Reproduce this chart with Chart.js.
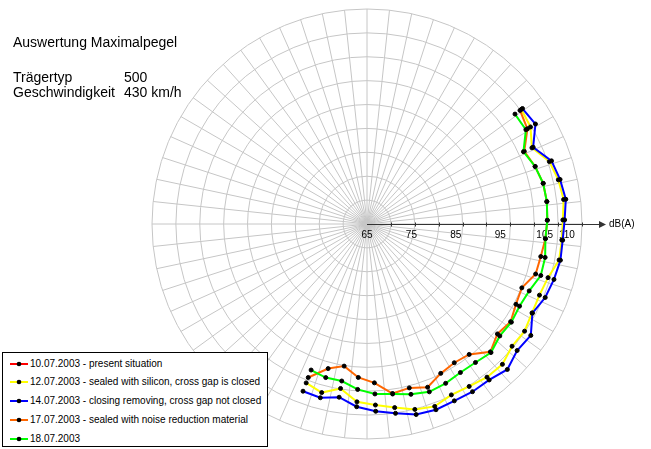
<!DOCTYPE html>
<html><head><meta charset="utf-8">
<script src="https://cdn.jsdelivr.net/npm/chart.js@4/dist/chart.umd.min.js"></script>
<style>
html,body{margin:0;padding:0;background:#fff;}
#wrap{position:relative;width:651px;height:449px;overflow:hidden;font-family:"Liberation Sans",Arial,sans-serif;color:#000;}
#c{position:absolute;left:0;top:0;}
.t{position:absolute;font-size:14px;line-height:14px;white-space:nowrap;}
#legend{position:absolute;left:2px;top:352px;width:264px;height:93px;border:1px solid #000;background:#fff;}
.row{position:absolute;left:0;height:14px;font-size:10px;line-height:14px;white-space:nowrap;}
.row svg{position:absolute;left:6px;top:0;}
.row span{position:absolute;left:27px;top:0;}
</style></head><body>
<div id="wrap">
<canvas id="c" width="651" height="449"></canvas>
<div class="t" style="left:13px;top:35px">Auswertung Maximalpegel</div>
<div class="t" style="left:13px;top:70px">Trägertyp</div>
<div class="t" style="left:124px;top:70px">500</div>
<div class="t" style="left:13px;top:85px">Geschwindigkeit</div>
<div class="t" style="left:124px;top:85px">430 km/h</div>
<div id="legend"></div>
</div>
<script>
// ---- data (dB(A)), measured clockwise, one value per measuring position ----
const seriesLabels = [
  '10.07.2003 - present situation',
  '12.07.2003 - sealed with silicon, cross gap is closed',
  '14.07.2003 - closing removing, cross gap not closed',
  '17.07.2003 - sealed with noise reduction material',
  '18.07.2003'
];
const seriesColors = ['#ff0000', '#ffff00', '#0000ff', '#ff6600', '#00ff00'];
const tickLabels = [65, 75, 85, 95, 105, 110];
const axisTitle = 'dB(A)';

const red = [];
const yellow = [108.3, 107.8, 105.9, 108.4, 109.2, 109.6, 109.1, 109.0, 109.0, 107.5, 107.0, 107.2, 107.9, 107.7, 108.9, 108.8, 108.2, 107.9, 108.8, 108.1, 106.8, 105.8, 105.1, 102.5, 104.3, 103.3];
const blue   = [108.6, 109.1, 106.2, 108.9, 109.6, 110.1, 109.5, 109.2, 109.3, 108.9, 108.4, 107.3, 109.6, 109.2, 110.5, 109.6, 109.6, 109.4, 109.6, 109.3, 108.1, 107.2, 106.2, 104.5, 105.5, 105.3];
const orange = [107.9, 107.0, 104.0, 105.0, 105.7, 105.8, 105.6, 105.3, 104.8, 104.6, 102.7, 103.1, 104.1, 103.4, 105.0, 102.3, 101.9, 102.5, 104.2, 103.1, 103.6, 100.8, 99.6, 97.4, 98.7, 102.0];
const green  = [106.5, 106.6, 103.8, 105.0, 105.7, 105.8, 105.6, 105.3, 105.8, 105.8, 104.5, 104.0, 104.3, 104.1, 105.2, 104.6, 104.5, 105.0, 105.3, 104.6, 103.7, 103.3, 102.3, 100.8, 100.8, 100.2];

const R_MIN = 65, R_MAX = 113.4;
const GRID_RINGS = 9, GRID_SPOKES = 60, DATA_SLOTS = 61;

const allSeries = [red, yellow, blue, orange, green];
const pad = arr => Array.from({length: DATA_SLOTS}, (_, i) => i < arr.length ? arr[i] : null);

const datasets = allSeries.map((arr, k) => ({
  label: seriesLabels[k],
  data: pad(arr),
  rAxisID: 'r2',
  borderColor: seriesColors[k],
  backgroundColor: seriesColors[k],
  borderWidth: 2,
  fill: false,
  spanGaps: false,
  tension: 0,
  pointRadius: 2,
  pointBorderWidth: 1,
  pointBackgroundColor: '#000',
  pointBorderColor: '#000',
  order: allSeries.length - k
}));

const axisPlugin = {
  id: 'dbAxis',
  beforeDatasetsDraw(chart) {
    const s = chart.scales.r;
    const ctx = chart.ctx;
    const cx = s.xCenter, cy = s.yCenter + 0.5;
    const end = cx + s.drawingArea + 24;
    ctx.save();
    ctx.strokeStyle = '#333';
    ctx.fillStyle = '#333';
    ctx.lineWidth = 1;
    ctx.beginPath(); ctx.moveTo(cx, cy); ctx.lineTo(end - 4, cy); ctx.stroke();
    ctx.beginPath(); ctx.moveTo(end, cy); ctx.lineTo(end - 7, cy - 3.5); ctx.lineTo(end - 7, cy + 3.5); ctx.closePath(); ctx.fill();
    s.ticks.forEach((t, i) => {
      if (!i) return;
      const x = Math.round(cx + s.getDistanceFromCenterForValue(t.value)) + 0.5;
      ctx.beginPath(); ctx.moveTo(x, cy - 2); ctx.lineTo(x, cy + 2); ctx.stroke();
    });
    ctx.fillStyle = '#000';
    ctx.font = '10px "Liberation Sans", Arial, sans-serif';
    ctx.textAlign = 'center';
    ctx.textBaseline = 'alphabetic';
    tickLabels.forEach(v => ctx.fillText(String(v), cx + s.getDistanceFromCenterForValue(v), cy + 13.5));
    ctx.textAlign = 'left';
    ctx.textBaseline = 'middle';
    ctx.fillText(axisTitle, end + 3, cy);
    ctx.restore();
  }
};

new Chart(document.getElementById('c'), {
  type: 'radar',
  data: { labels: Array(DATA_SLOTS).fill(''), datasets },
  options: {
    responsive: false,
    animation: false,
    devicePixelRatio: 1,
    layout: { padding: { left: 152, right: 69, top: 9, bottom: 10 } },
    plugins: { legend: { display: false }, tooltip: { enabled: false } },
    scales: {
      r: {
        type: 'radialLinear',
        min: R_MIN, max: R_MAX,
        startAngle: 0,
        labels: Array(GRID_SPOKES).fill(''),
        afterBuildTicks: s => {
          s.ticks = Array.from({length: GRID_RINGS + 1}, (_, k) => ({ value: R_MIN + k * (R_MAX - R_MIN) / GRID_RINGS }));
        },
        grid: { circular: true, color: '#c6c6c6', lineWidth: 1 },
        angleLines: { display: true, color: '#c6c6c6', lineWidth: 1 },
        ticks: { display: false },
        pointLabels: { display: false }
      },
      r2: {
        type: 'radialLinear',
        axis: 'r',
        min: R_MIN, max: R_MAX,
        startAngle: 53.4,
        labels: Array(DATA_SLOTS).fill(''),
        grid: { display: false },
        angleLines: { display: false },
        ticks: { display: false },
        pointLabels: { display: false }
      }
    }
  },
  plugins: [axisPlugin]
});

// legend built from the series names/colours
const lg = document.getElementById('legend');
seriesLabels.forEach((lab, k) => {
  const row = document.createElement('div');
  row.className = 'row';
  row.style.top = (3.5 + k * 18.75) + 'px';
  row.innerHTML = '<svg width="20" height="14"><line x1="1" y1="7" x2="19" y2="7" stroke="' + seriesColors[k] +
    '" stroke-width="2"/><circle cx="10" cy="7" r="2.3" fill="#000"/></svg><span></span>';
  row.querySelector('span').textContent = lab;
  lg.appendChild(row);
});
</script>
</body></html>
